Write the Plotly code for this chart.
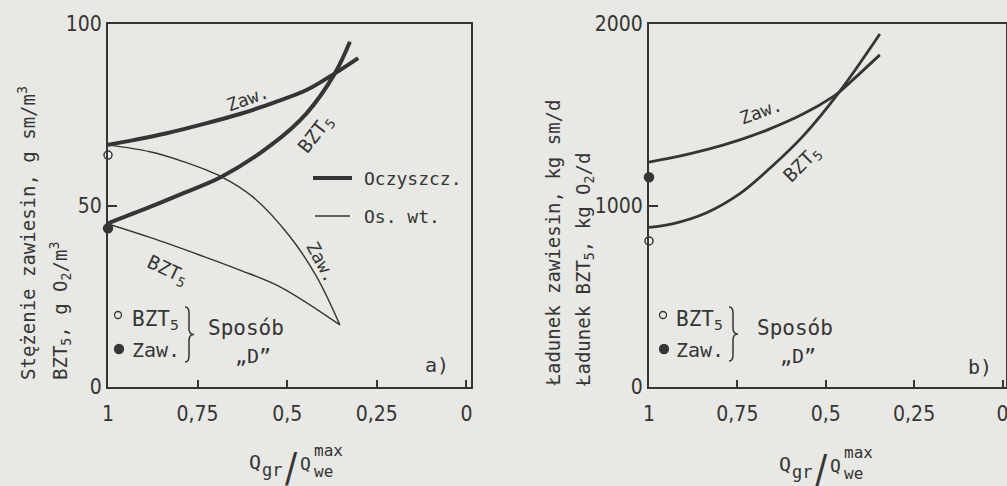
import plotly.graph_objects as go

W, H = 1007, 486

# ---------- Panel a) concentrations (x = Q_gr / Q_we^max) ----------
q_a_oc_ss = [1.0, 0.929, 0.836, 0.743, 0.632, 0.539, 0.446, 0.367, 0.302]
c_oc_ss = [66.7, 68.0, 69.9, 72.2, 75.2, 78.3, 81.8, 86.4, 90.6]
q_a_oc_bod = [1.0, 0.883, 0.790, 0.683, 0.539, 0.446, 0.367, 0.325]
c_oc_bod = [45.1, 49.6, 53.4, 57.9, 67.1, 75.4, 86.4, 95.1]
q_a_os_ss = [1.0, 0.883, 0.790, 0.683, 0.595, 0.492, 0.418, 0.353]
c_os_ss = [66.7, 64.8, 62.1, 57.9, 52.3, 41.4, 30.4, 17.1]
q_a_os_bod = [1.0, 0.883, 0.743, 0.632, 0.520, 0.353]
c_os_bod = [44.9, 41.2, 36.3, 32.2, 27.6, 17.1]
c_D_bod = [63.9]
c_D_ss = [43.7]

# ---------- Panel b) loads ----------
q_b = [1.0, 0.931, 0.837, 0.743, 0.658, 0.563, 0.479, 0.462, 0.347]
load_ss = [1239, 1265, 1308, 1362, 1422, 1505, 1600, 1625, 1830]
q_b_bod = [1.0, 0.931, 0.837, 0.743, 0.658, 0.563, 0.462, 0.347]
load_bod = [879, 900, 960, 1065, 1205, 1385, 1625, 1945]
load_D_ss = [1156]
load_D_bod = [805]

q_D = [1]

x_tickvals = [1, 0.75, 0.5, 0.25, 0]
x_ticktext = ["1", "0,75", "0,5", "0,25", "0"]
ya_tickvals = [0, 50, 100]
yb_tickvals = [0, 1000, 2000]

INK = "#353535"
BG = "#e8e8e4"
TICKFONT = "Liberation Sans Narrow, Arial Narrow, DejaVu Sans Condensed, sans-serif"
TXTFONT = "DejaVu Sans Mono, monospace"


def X(px):
    return px / W


def Y(py):
    return 1 - py / H


fig = go.Figure()


def line(x, y, w, xa, ya):
    fig.add_trace(go.Scatter(x=x, y=y, mode="lines",
                             line=dict(color=INK, width=w, shape="spline", smoothing=1.0),
                             xaxis=xa, yaxis=ya, showlegend=False, hoverinfo="skip"))


def mark(x, y, filled, xa, ya):
    fig.add_trace(go.Scatter(x=x, y=y, mode="markers",
                             marker=dict(symbol="circle", size=9 if filled else 8,
                                         color=INK if filled else "#f4f4f2",
                                         line=dict(color=INK, width=1.5)),
                             cliponaxis=False, xaxis=xa, yaxis=ya, showlegend=False, hoverinfo="skip"))


line(q_a_oc_ss, c_oc_ss, 4, "x", "y")
line(q_a_oc_bod, c_oc_bod, 4, "x", "y")
line(q_a_os_ss, c_os_ss, 1.4, "x", "y")
line(q_a_os_bod, c_os_bod, 1.4, "x", "y")
mark(q_D, c_D_bod, False, "x", "y")
mark(q_D, c_D_ss, True, "x", "y")

line(q_b, load_ss, 2.8, "x2", "y2")
line(q_b_bod, load_bod, 2.8, "x2", "y2")
mark(q_D, load_D_ss, True, "x2", "y2")
mark(q_D, load_D_bod, False, "x2", "y2")

ydom = [Y(387), Y(24)]
axcommon = dict(showline=True, linecolor=INK, linewidth=2, mirror=True, showgrid=False, zeroline=False,
                ticks="inside", tickcolor=INK, tickwidth=2, ticklabeloverflow="allow",
                tickfont=dict(family=TICKFONT, size=21, color=INK))

fig.update_layout(
    width=W, height=H, margin=dict(l=0, r=0, t=0, b=0, autoexpand=False),
    paper_bgcolor=BG, plot_bgcolor=BG, showlegend=False,
    xaxis=dict(domain=[X(108), X(471)], range=[1, -0.0128], tickvals=x_tickvals, ticktext=x_ticktext,
               ticklen=7, ticklabelstandoff=7, anchor="y", **axcommon),
    yaxis=dict(domain=ydom, range=[0, 100], tickvals=ya_tickvals, ticklen=9, anchor="x", **axcommon),
    xaxis2=dict(domain=[X(649), X(1006)], range=[1, -0.0099], tickvals=x_tickvals, ticktext=x_ticktext,
                ticklen=7, ticklabelstandoff=7, anchor="y2", **axcommon),
    yaxis2=dict(domain=ydom, range=[0, 2000], tickvals=yb_tickvals, ticklen=9, anchor="x2", **axcommon),
)

anns = []


def txt(t, px, py, size=18, angle=0, xa="left", ya="middle", fam=TXTFONT):
    anns.append(dict(text=t, x=X(px), y=Y(py), xref="paper", yref="paper", showarrow=False,
                     xanchor=xa, yanchor=ya, textangle=angle, borderpad=0,
                     font=dict(family=fam, size=size, color=INK)))


def dtxt(t, x, y, xr, yr, angle, size=18):
    anns.append(dict(text=t, x=x, y=y, xref=xr, yref=yr, showarrow=False, xanchor="center", yanchor="middle",
                     textangle=angle, font=dict(family=TXTFONT, size=size, color=INK)))


# curve labels, panel a
dtxt("Zaw.", 0.612, 79.5, "x", "y", -20)
dtxt("BZT<sub>5</sub>", 0.42, 69.5, "x", "y", -52, size=19)
dtxt("Zaw.", 0.405, 34.5, "x", "y", 62)
dtxt("BZT<sub>5</sub>", 0.835, 32, "x", "y", 25, size=19)
# curve labels, panel b
dtxt("Zaw.", 0.686, 1520, "x2", "y2", -20)
dtxt("BZT<sub>5</sub>", 0.567, 1227, "x2", "y2", -45, size=19)

# inner legend (panel a)
txt("Oczyszcz.", 363, 178, size=18)
txt("Os. wt.", 363, 216, size=18)

# method D keys
for (tx, spx, dx, lab, lx, ly) in [(131, 207, 234, "a)", 424, 365),
                                   (675, 756, 779, "b)", 967, 367)]:
    txt("BZT<sub>5</sub>", tx, 320, size=21)
    txt("Zaw.", tx, 350, size=20)
    txt("Sposób", spx, 328, size=21)
    txt("„D\u201d", dx, 356, size=20)
    txt(lab, lx, ly, size=20)

# axis titles
txt("Stężenie zawiesin, g sm/m<sup>3</sup>", 27, 381, size=19, angle=-90, xa="center", ya="bottom")
txt("BZT<sub>5</sub>, g O<sub>2</sub>/m<sup>3</sup>", 60, 381, size=19, angle=-90, xa="center", ya="bottom")
txt("Ładunek zawiesin, kg sm/d", 552, 388, size=19, angle=-90, xa="center", ya="bottom")
txt("Ładunek BZT<sub>5</sub>, kg O<sub>2</sub>/d", 584, 388, size=19, angle=-90, xa="center", ya="bottom")

for (dx, dy) in [(0, 0), (530, 2)]:
    txt("Q", 255 + dx, 462 + dy, size=20, xa="center")
    txt("gr", 261 + dx, 470 + dy, size=17, xa="left")
    txt("/", 291 + dx, 468 + dy, size=40, xa="center", fam=TICKFONT)
    txt("Q", 305 + dx, 463 + dy, size=18, xa="center")
    txt("max", 313 + dx, 450 + dy, size=16, xa="left")
    txt("we", 313 + dx, 471 + dy, size=16, xa="left")

fig.update_layout(annotations=anns)

# legend glyph shapes
shapes = []


def seg(x0, y0, x1, y1, w):
    shapes.append(dict(type="line", xref="paper", yref="paper", x0=X(x0), y0=Y(y0), x1=X(x1), y1=Y(y1),
                       line=dict(color=INK, width=w)))


seg(313, 178, 352, 178, 4)
seg(315, 216, 350, 216, 1.4)


def circ(cx, cy, r, filled):
    shapes.append(dict(type="circle", xref="paper", yref="paper", x0=X(cx - r), x1=X(cx + r),
                       y0=Y(cy + r), y1=Y(cy - r), line=dict(color=INK, width=1.3),
                       fillcolor=INK if filled else "rgba(0,0,0,0)"))


for cx in [118, 663]:
    circ(cx, 315, 3.5, False)
    circ(cx + 1, 349, 4.5, True)


def brace(x, top, bot, tip):
    mid = (top + bot) / 2
    p = (f"M {X(x-4)},{Y(top)} Q {X(x)},{Y(top)} {X(x)},{Y(top+6)} L {X(x)},{Y(mid-6)} "
         f"Q {X(x)},{Y(mid)} {X(x+tip)},{Y(mid)} Q {X(x)},{Y(mid)} {X(x)},{Y(mid+6)} "
         f"L {X(x)},{Y(bot-6)} Q {X(x)},{Y(bot)} {X(x-4)},{Y(bot)}")
    shapes.append(dict(type="path", xref="paper", yref="paper", path=p, line=dict(color=INK, width=1.5)))


brace(189, 307, 362, 5)
brace(733, 307, 361, 5)

fig.update_layout(shapes=shapes)

fig.write_html("out.html", config={"displayModeBar": False},
               post_script="document.body.style.margin='0';document.body.style.overflow='hidden';"
                           "document.body.style.background='#e8e8e4';")
